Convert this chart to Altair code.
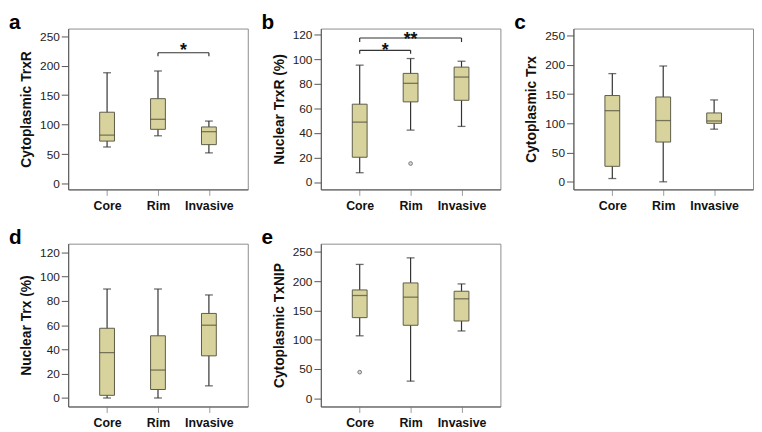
import json
import altair as alt
import pandas as pd

categories = ["Core", "Rim", "Invasive"]
cat_idx = [0, 1, 2]

# panel a: Cytoplasmic TrxR
a_min = [62, 81, 52]
a_q1 = [72, 92, 66]
a_med = [82, 109, 88]
a_q3 = [121, 144, 96]
a_max = [188, 191, 106]

# panel b: Nuclear TrxR (%)
b_min = [7.6, 42.3, 45.3]
b_q1 = [20.2, 65.3, 66.6]
b_med = [48.8, 80.4, 85.5]
b_q3 = [63.4, 88.5, 93.6]
b_max = [95.2, 100.6, 98.4]
b_out_idx = [1]
b_out_val = [15.1]

# panel c: Cytoplasmic Trx
c_min = [5.6, 0, 90]
c_q1 = [26.5, 68, 100]
c_med = [121.6, 104.7, 104]
c_q3 = [147.5, 145, 117.7]
c_max = [185, 198, 140]

# panel d: Nuclear Trx (%)
d_min = [0, 0, 10]
d_q1 = [2.2, 7, 34.7]
d_med = [37.4, 23, 59.9]
d_q3 = [57.4, 51.2, 69.6]
d_max = [89.7, 89.7, 84.8]

# panel e: Cytoplasmic TxNIP
e_min = [106.7, 29.3, 115]
e_q1 = [137.7, 124.7, 132]
e_med = [175.5, 172.7, 169.9]
e_q3 = [185, 197, 182.8]
e_max = [228.6, 239.8, 195.3]
e_out_idx = [0]
e_out_val = [44.6]

# significance brackets
a_br_x1 = [1]; a_br_x2 = [2]; a_br_y = [222]; a_br_tip = [216]
a_star_x = [1.5]; a_star_y = [216]; a_star_txt = ["*"]
b_br_x1 = [0, 0]; b_br_x2 = [1, 2]; b_br_y = [107.3, 117.3]; b_br_tip = [104.4, 114.0]
b_star_x = [0.5, 1.0]; b_star_y = [102.4, 111.8]; b_star_txt = ["*", "**"]

ticks_250 = [0, 50, 100, 150, 200, 250]
ticks_120 = [0, 20, 40, 60, 80, 100, 120]

FONT = "Liberation Sans"
BOX_FILL = "#D8D39C"
BOX_STROKE = "#5b5b48"
LINE = "#333333"

label_expr = json.dumps(categories) + "[datum.value]"


def make_panel(mins, q1s, meds, q3s, maxs, ydomain, yticks, ytitle, letter, height,
               out_idx=None, out_val=None, br=None, stars=None):
    df = pd.DataFrame({"idx": cat_idx, "cat": categories, "mn": mins, "q1": q1s,
                       "med": meds, "q3": q3s, "mx": maxs})
    xs = alt.Scale(domain=[-0.667, 2.667], nice=False, zero=False)
    ys = alt.Scale(domain=ydomain, nice=False, zero=False)
    xaxis = alt.Axis(values=cat_idx, labelExpr=label_expr, title=None, grid=False,
                     labelFontWeight="bold", labelFontSize=12.5, labelFont=FONT,
                     labelColor="#111", tickColor="#999", tickSize=6, labelPadding=4,
                     domainColor="#555", labelOverlap=False)
    yaxis = alt.Axis(values=yticks, title=ytitle, grid=False, labelFontSize=12,
                     labelFont=FONT, labelColor="#222", tickColor="#555", tickSize=7,
                     labelPadding=2, titleFont=FONT, titleFontSize=14,
                     titleFontWeight="bold", titleColor="#111", titlePadding=6,
                     domainColor="#555", labelOverlap=False)

    def X(f):
        return alt.X(f, scale=xs, axis=xaxis)

    def Y(f):
        return alt.Y(f, scale=ys, axis=yaxis)

    base = alt.Chart(df)
    whisk = base.mark_rule(color=LINE, strokeWidth=1.2).encode(
        x=X("idx:Q"), y=Y("mn:Q"), y2="mx:Q")
    cap_lo = base.mark_tick(orient="horizontal", size=8, thickness=1.3, color=LINE).encode(
        x=X("idx:Q"), y=Y("mn:Q"))
    cap_hi = base.mark_tick(orient="horizontal", size=8, thickness=1.3, color=LINE).encode(
        x=X("idx:Q"), y=Y("mx:Q"))
    box = base.mark_bar(size=15, fill=BOX_FILL, stroke=BOX_STROKE, strokeWidth=1).encode(
        x=X("idx:Q"), y=Y("q1:Q"), y2="q3:Q")
    med = base.mark_tick(orient="horizontal", size=15, thickness=1.3, color="#4a4a3a").encode(
        x=X("idx:Q"), y=Y("med:Q"))
    layers = [whisk, box, cap_lo, cap_hi, med]
    if out_idx is not None:
        odf = pd.DataFrame({"idx": out_idx, "mn": out_val})
        layers.append(alt.Chart(odf).mark_point(shape="circle", size=14, filled=True,
                                                fill="#d8d8d8", stroke="#777",
                                                strokeWidth=1, opacity=1).encode(
            x=X("idx:Q"), y=Y("mn:Q")))
    if br is not None:
        x1s, x2s, yb, ytip = br
        bdf = pd.DataFrame({"idx": x1s, "x2": x2s, "mn": yb, "tip": ytip})
        layers.append(alt.Chart(bdf).mark_rule(color=LINE, strokeWidth=1.2).encode(
            x=X("idx:Q"), x2="x2:Q", y=Y("mn:Q")))
        layers.append(alt.Chart(bdf).mark_rule(color=LINE, strokeWidth=1.2).encode(
            x=X("idx:Q"), y=Y("tip:Q"), y2="mn:Q"))
        layers.append(alt.Chart(bdf).mark_rule(color=LINE, strokeWidth=1.2).encode(
            x=X("x2:Q"), y=Y("tip:Q"), y2="mn:Q"))
    if stars is not None:
        sx, sy, st = stars
        sdf = pd.DataFrame({"idx": sx, "mn": sy, "t": st})
        layers.append(alt.Chart(sdf).mark_text(font=FONT, fontSize=18, fontWeight="bold",
                                               baseline="alphabetic", align="center",
                                               color="#111").encode(
            x=X("idx:Q"), y=Y("mn:Q"), text="t:N"))
    return alt.layer(*layers).properties(
        width=182, height=height,
        title=alt.TitleParams(text=letter, anchor="start", frame="group", dx=-60,
                              offset=-21, fontSize=21, fontWeight="bold", font=FONT,
                              baseline="alphabetic", color="#000"))


pa = make_panel(a_min, a_q1, a_med, a_q3, a_max, [-10, 263], ticks_250,
                "Cytoplasmic TrxR", "a", 163,
                br=(a_br_x1, a_br_x2, a_br_y, a_br_tip),
                stars=(a_star_x, a_star_y, a_star_txt))
pb = make_panel(b_min, b_q1, b_med, b_q3, b_max, [-6, 125], ticks_120,
                "Nuclear TrxR (%)", "b", 163, out_idx=b_out_idx, out_val=b_out_val,
                br=(b_br_x1, b_br_x2, b_br_y, b_br_tip),
                stars=(b_star_x, b_star_y, b_star_txt))
pc = make_panel(c_min, c_q1, c_med, c_q3, c_max, [-13, 262], ticks_250,
                "Cytoplasmic Trx", "c", 163)
pd_ = make_panel(d_min, d_q1, d_med, d_q3, d_max, [-7, 127], ticks_120,
                 "Nuclear Trx (%)", "d", 165)
pe = make_panel(e_min, e_q1, e_med, e_q3, e_max, [-14, 264], ticks_250,
                "Cytoplasmic TxNIP", "e", 165, out_idx=e_out_idx, out_val=e_out_val)

row1 = alt.hconcat(pa, pb, pc, spacing=12)
row2 = alt.hconcat(pd_, pe, spacing=12)
chart = alt.vconcat(row1, row2, spacing=14).properties(
    padding=0,
    background="white",
).configure_view(stroke="#8c8c8c", strokeWidth=1)

chart.save("out.html", embed_options={"renderer": "svg", "actions": False})
